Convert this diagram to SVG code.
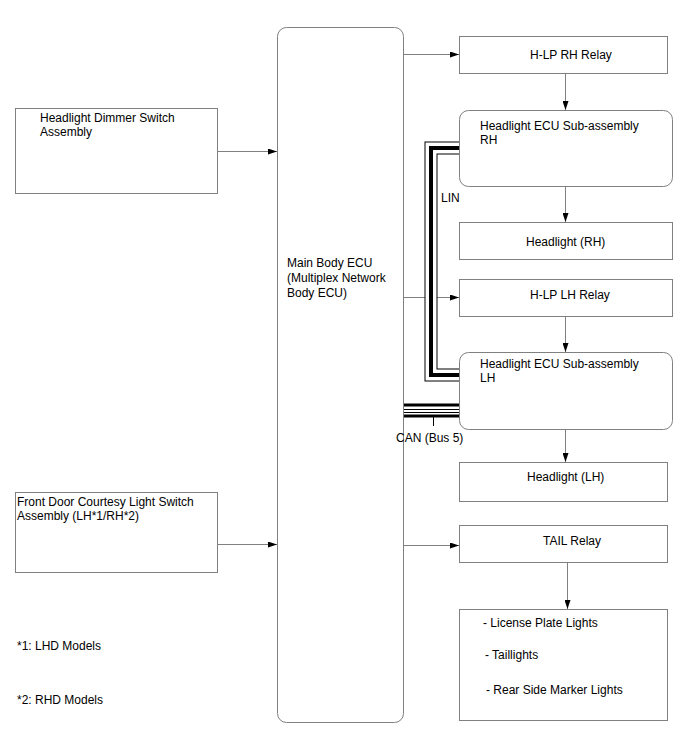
<svg xmlns="http://www.w3.org/2000/svg" width="688" height="755" viewBox="0 0 688 755">
<style>
.box{fill:#fff;stroke:#808080;stroke-width:1}
.t{font-family:"Liberation Sans",Arial,sans-serif;font-size:12px;fill:#000}
.c{fill:none;stroke:#808080;stroke-width:1}
</style>
<defs>
<marker id="ah" markerWidth="9" markerHeight="6" refX="9" refY="3" orient="auto" markerUnits="userSpaceOnUse">
<path d="M0,0 L9,3 L0,6 z" fill="#000"/>
</marker>
</defs>
<rect width="688" height="755" fill="#fff"/>
<g id="connectors">
<line class="c" x1="217" y1="151.5" x2="277" y2="151.5" marker-end="url(#ah)"/>
<line class="c" x1="217" y1="544.5" x2="277" y2="544.5" marker-end="url(#ah)"/>
<line class="c" x1="403" y1="54.5" x2="459" y2="54.5" marker-end="url(#ah)"/>
<line class="c" x1="403" y1="297.5" x2="459" y2="297.5" marker-end="url(#ah)"/>
<line class="c" x1="403" y1="545.5" x2="459" y2="545.5" marker-end="url(#ah)"/>
<line class="c" x1="565.5" y1="73" x2="565.5" y2="110" marker-end="url(#ah)"/>
<line class="c" x1="565.5" y1="186" x2="565.5" y2="222" marker-end="url(#ah)"/>
<line class="c" x1="565.5" y1="316" x2="565.5" y2="352" marker-end="url(#ah)"/>
<line class="c" x1="565.5" y1="429" x2="565.5" y2="462" marker-end="url(#ah)"/>
<line class="c" x1="567.5" y1="562" x2="567.5" y2="609" marker-end="url(#ah)"/>
<g id="lin">
<path d="M459,148 H431 V375 H459" fill="none" stroke="#000" stroke-width="13"/>
<path d="M459,148 H431 V375 H459" fill="none" stroke="#fff" stroke-width="11"/>
<path d="M459,148 H431 V375 H459" fill="none" stroke="#000" stroke-width="4"/>
</g>
<g id="can">
<rect x="403" y="403.5" width="56" height="3" fill="#000"/>
<rect x="403" y="409" width="56" height="1" fill="#000"/>
<rect x="403" y="412" width="56" height="1" fill="#000"/>
<rect x="403" y="414.5" width="56" height="3" fill="#000"/>
<line x1="433.5" y1="417" x2="433.5" y2="426" stroke="#000" stroke-width="1"/>
</g>
</g>
<g id="dimmer">
<rect class="box" x="15.5" y="108.5" width="202" height="85"/>
<text class="t" x="40" y="122">Headlight Dimmer Switch</text>
<text class="t" x="40" y="136">Assembly</text>
</g>
<g id="door">
<rect class="box" x="15.5" y="492.5" width="202" height="80"/>
<text class="t" x="17" y="506">Front Door Courtesy Light Switch</text>
<text class="t" x="17" y="520">Assembly (LH*1/RH*2)</text>
</g>
<g id="ecu">
<rect class="box" x="277.5" y="27.5" width="126" height="695" rx="9"/>
<text class="t" x="287" y="267">Main Body ECU</text>
<text class="t" x="287" y="282">(Multiplex Network</text>
<text class="t" x="287" y="297">Body ECU)</text>
</g>
<g id="hlp-rh">
<rect class="box" x="459.5" y="36.5" width="208" height="37"/>
<text class="t" x="530" y="59">H-LP RH Relay</text>
</g>
<g id="hecu-rh">
<rect class="box" x="459.5" y="110.5" width="213" height="76" rx="9"/>
<text class="t" x="480" y="130">Headlight ECU Sub-assembly</text>
<text class="t" x="480" y="144">RH</text>
</g>
<g id="hl-rh">
<rect class="box" x="459.5" y="222.5" width="213" height="37"/>
<text class="t" x="526" y="246">Headlight (RH)</text>
</g>
<g id="hlp-lh">
<rect class="box" x="459.5" y="279.5" width="213" height="37"/>
<text class="t" x="530" y="299">H-LP LH Relay</text>
</g>
<g id="hecu-lh">
<rect class="box" x="459.5" y="352.5" width="213" height="77" rx="9"/>
<text class="t" x="480" y="368">Headlight ECU Sub-assembly</text>
<text class="t" x="480" y="382">LH</text>
</g>
<g id="hl-lh">
<rect class="box" x="459.5" y="462.5" width="208" height="39"/>
<text class="t" x="527" y="481">Headlight (LH)</text>
</g>
<g id="tail">
<rect class="box" x="459.5" y="525.5" width="208" height="37"/>
<text class="t" x="543" y="545">TAIL Relay</text>
</g>
<g id="lights">
<rect class="box" x="459.5" y="609.5" width="208" height="111"/>
<text class="t" x="483" y="627">- License Plate Lights</text>
<text class="t" x="485" y="659">- Taillights</text>
<text class="t" x="486" y="694">- Rear Side Marker Lights</text>
</g>
<g id="labels">
<text class="t" x="441" y="202">LIN</text>
<text class="t" x="396" y="442">CAN (Bus 5)</text>
<text class="t" x="17" y="650">*1: LHD Models</text>
<text class="t" x="17" y="704">*2: RHD Models</text>
</g>
</svg>
